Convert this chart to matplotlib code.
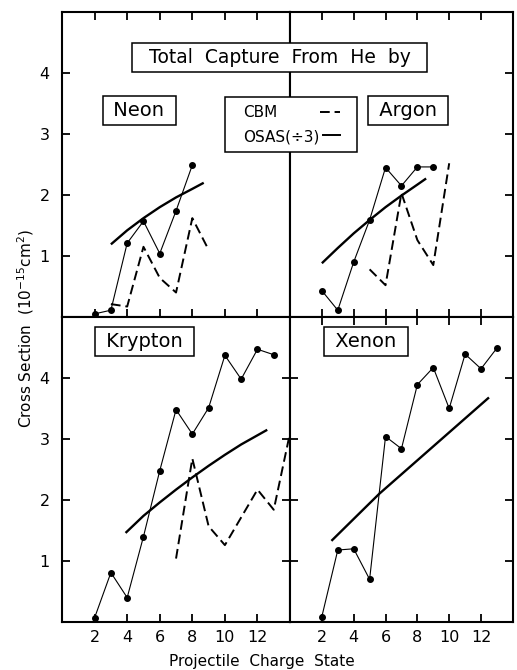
import matplotlib.pyplot as plt
from matplotlib.lines import Line2D
from matplotlib.patches import Rectangle

plt.rcParams['font.family'] = ['DejaVu Sans']

# cross sections (10^-15 cm^2) vs projectile charge state
neon_q = [2, 3, 4, 5, 6, 7, 8]
neon_sigma = [0.05, 0.11, 1.21, 1.57, 1.04, 1.74, 2.49]
neon_cbm_q = [3, 4, 5, 6, 7, 8, 9]
neon_cbm = [0.21, 0.17, 1.15, 0.64, 0.40, 1.62, 1.10]
neon_osas_q = [3, 4, 5, 6, 7, 8, 8.7]
neon_osas = [1.19, 1.42, 1.62, 1.80, 1.96, 2.10, 2.20]

argon_q = [2, 3, 4, 5, 6, 7, 8, 9]
argon_sigma = [0.43, 0.11, 0.90, 1.59, 2.45, 2.15, 2.46, 2.46]
argon_cbm_q = [5, 6, 7, 8, 9, 10]
argon_cbm = [0.78, 0.52, 2.03, 1.26, 0.85, 2.52]
argon_osas_q = [2, 3, 4, 5, 6, 7, 8, 8.55]
argon_osas = [0.88, 1.13, 1.37, 1.59, 1.80, 1.99, 2.17, 2.27]

krypton_q = [2, 3, 4, 5, 6, 7, 8, 9, 10, 11, 12, 13]
krypton_sigma = [0.07, 0.81, 0.40, 1.40, 2.48, 3.48, 3.08, 3.51, 4.37, 3.98, 4.47, 4.38]
krypton_cbm_q = [7, 8, 9, 10, 12, 13, 14]
krypton_cbm = [1.04, 2.68, 1.57, 1.26, 2.17, 1.84, 3.10]
krypton_osas_q = [3.9, 5, 6, 7, 8, 9, 10, 11, 12, 12.6]
krypton_osas = [1.46, 1.74, 1.96, 2.17, 2.37, 2.56, 2.74, 2.91, 3.06, 3.15]

xenon_q = [2, 3, 4, 5, 6, 7, 8, 9, 10, 11, 12, 13]
xenon_sigma = [0.09, 1.18, 1.20, 0.70, 3.04, 2.84, 3.89, 4.17, 3.50, 4.39, 4.15, 4.49]
xenon_osas_q = [2.6, 5.6, 12.5]
xenon_osas = [1.33, 2.10, 3.68]

x_ticks = [2, 4, 6, 8, 10, 12]
x_ticklabels = ['2', '4', '6', '8', '10', '12']
y_ticks = [1, 2, 3, 4]
y_ticklabels = ['1', '2', '3', '4']

fig = plt.figure(figsize=(5.17, 6.70), dpi=100)

L, M, R = 0.120, 0.561, 0.992
B, MID, T = 0.0716, 0.527, 0.982

ax_ne = fig.add_axes([L, MID, M - L, T - MID])
ax_ar = fig.add_axes([M, MID, R - M, T - MID])
ax_kr = fig.add_axes([L, B, M - L, MID - B])
ax_xe = fig.add_axes([M, B, R - M, MID - B])

panels = [
    (ax_ne, neon_q, neon_sigma, neon_cbm_q, neon_cbm, neon_osas_q, neon_osas),
    (ax_ar, argon_q, argon_sigma, argon_cbm_q, argon_cbm, argon_osas_q, argon_osas),
    (ax_kr, krypton_q, krypton_sigma, krypton_cbm_q, krypton_cbm, krypton_osas_q, krypton_osas),
    (ax_xe, xenon_q, xenon_sigma, None, None, xenon_osas_q, xenon_osas),
]

for ax, q, s, cq, c, oq, o in panels:
    ax.plot(q, s, color='black', lw=0.8, marker='o', ms=4, clip_on=False, zorder=3)
    if cq is not None:
        ax.plot(cq, c, color='black', lw=1.4, dashes=(5, 2.5), clip_on=False)
    ax.plot(oq, o, color='black', lw=1.7, solid_capstyle='butt', solid_joinstyle='round')
    ax.set_xlim(0, 14)
    ax.set_ylim(0, 5)
    ax.set_xticks(x_ticks)
    ax.set_xticklabels(x_ticklabels)
    ax.set_yticks(y_ticks)
    ax.set_yticklabels(y_ticklabels)
    for sp in ax.spines.values():
        sp.set_linewidth(1.5)
    ax.tick_params(direction='in', length=6, width=1.3, labelsize=11.5,
                   top=False, bottom=False, left=False, right=False,
                   labelbottom=False, labelleft=False)

ax_ne.tick_params(left=True, top=True, bottom=True, labelleft=True, pad=9)
ax_ar.tick_params(right=True, top=True, bottom=True)
ax_kr.tick_params(left=True, bottom=True, right=True, labelleft=True, labelbottom=True, pad=9)
ax_kr.tick_params(axis='x', pad=6)
ax_xe.tick_params(left=True, bottom=True, right=True, top=True, labelbottom=True)
ax_xe.tick_params(axis='x', pad=6)

# axis labels
fig.text(0.05, 0.51, r'Cross Section  (10$^{-15}$cm$^2$)', rotation=90,
         ha='center', va='center', fontsize=11)
fig.text(0.507, 0.013, 'Projectile  Charge  State', ha='center', va='center',
         fontsize=11)

# boxed labels
box = dict(boxstyle='square,pad=0.25', facecolor='white', edgecolor='black', lw=1.1)
fig.text(0.541, 0.914, '  Total  Capture  From  He  by  ', ha='center', va='center',
         fontsize=13.5, bbox=box, zorder=5)
fig.text(0.269, 0.835, ' Neon ', ha='center', va='center', fontsize=14, bbox=box, zorder=5)
fig.text(0.790, 0.835, ' Argon ', ha='center', va='center', fontsize=14, bbox=box, zorder=5)
fig.text(0.279, 0.490, ' Krypton ', ha='center', va='center', fontsize=14, bbox=box, zorder=5)
fig.text(0.708, 0.490, ' Xenon ', ha='center', va='center', fontsize=14, bbox=box, zorder=5)

# legend box
fig.add_artist(Rectangle((0.4352, 0.7731), 0.2553, 0.0821, transform=fig.transFigure,
                         facecolor='white', edgecolor='black', lw=1.1, zorder=5))
fig.text(0.470, 0.8318, 'CBM', ha='left', va='center', fontsize=11, zorder=6)
fig.text(0.470, 0.7950, 'OSAS(÷3)', ha='left', va='center', fontsize=11, zorder=6)
fig.add_artist(Line2D([0.619, 0.658], [0.8335, 0.8335], transform=fig.transFigure,
                      color='black', lw=1.4, dashes=(5, 2.5), zorder=6))
fig.add_artist(Line2D([0.625, 0.658], [0.7985, 0.7985], transform=fig.transFigure,
                      color='black', lw=1.4, zorder=6))

fig.savefig('out.png', dpi=100)
